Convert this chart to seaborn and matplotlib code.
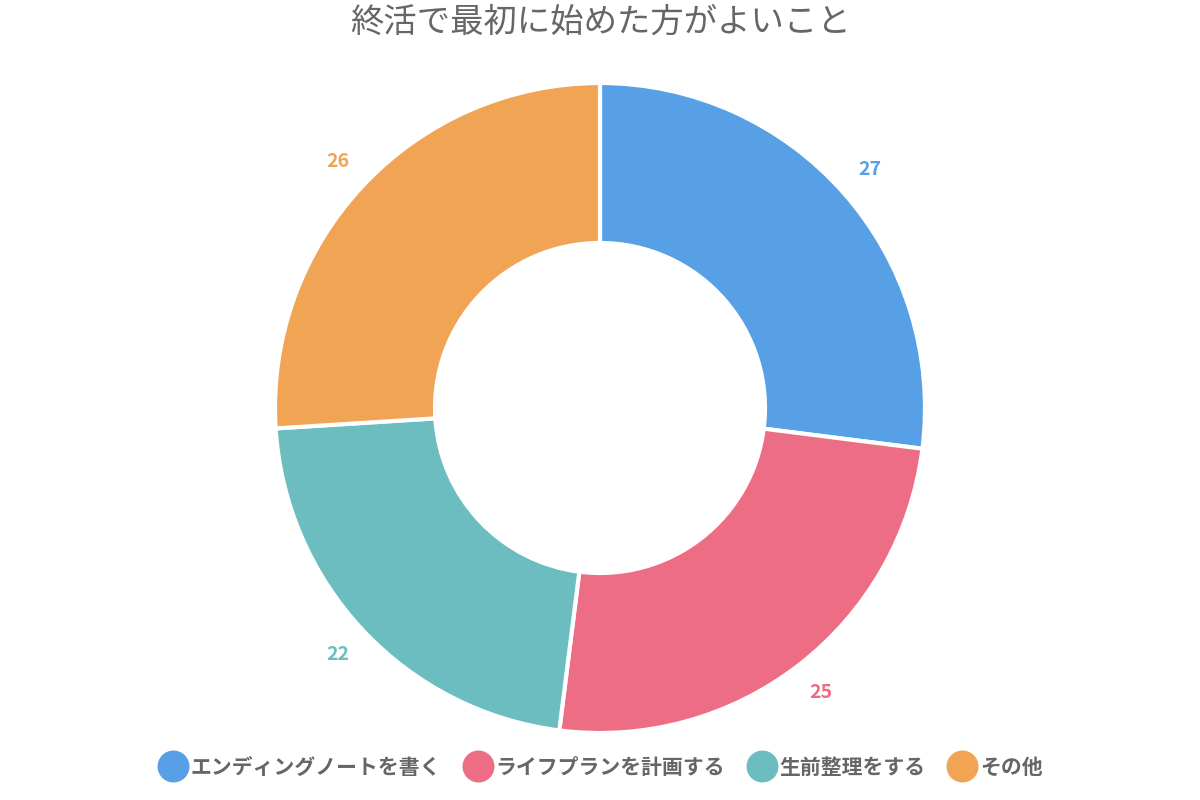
import matplotlib
matplotlib.use("Agg")
import matplotlib.pyplot as plt
import seaborn as sns
import numpy as np
from matplotlib.lines import Line2D

categories = ["エンディングノートを書く", "ライフプランを計画する", "生前整理をする", "その他"]
values = [27, 25, 22, 26]
colors = ["#57A0E5", "#ED6D85", "#6CBDBF", "#F0A454"]
title = "終活で最初に始めた方がよいこと"

sns.set_theme(style="white", font="Noto Sans CJK JP")
plt.rcParams["font.family"] = "Noto Sans CJK JP"

fig = plt.figure(figsize=(12, 8), dpi=100)
ax = fig.add_axes([0, 0, 1, 1])
ax.set_xlim(0, 1200)
ax.set_ylim(0, 800)
ax.set_aspect("equal")
ax.axis("off")

cx, cy, R = 600, 392, 325
wedges, _ = ax.pie(values, colors=colors, startangle=90, counterclock=False,
                   center=(cx, cy), radius=R, frame=True,
                   wedgeprops=dict(width=R - 165, edgecolor="white", linewidth=3))
ax.set_xlim(0, 1200)
ax.set_ylim(0, 800)
ax.axis("off")

total = sum(values)
cum = 0
for v, c in zip(values, colors):
    mid = (cum + v / 2) / total * 2 * np.pi
    cum += v
    x = cx + 360 * np.sin(mid)
    y = cy + 360 * np.cos(mid)
    ax.text(x, y, str(v), color=c, fontsize=14, fontweight="bold", ha="center", va="center")

ax.text(600, 778, title, fontsize=24, color="#666666", ha="center", va="center")

handles = [Line2D([0], [0], marker="o", linestyle="", markersize=22,
                  markerfacecolor=c, markeredgecolor=c) for c in colors]
leg = fig.legend(handles, categories, loc="center", bbox_to_anchor=(0.5, 33 / 800),
                 ncol=4, frameon=False, fontsize=15, handletextpad=0.1,
                 columnspacing=1.0, handlelength=1.5)
for t in leg.get_texts():
    t.set_color("#666666")
    t.set_fontweight("bold")

fig.savefig("out.png", dpi=100)
